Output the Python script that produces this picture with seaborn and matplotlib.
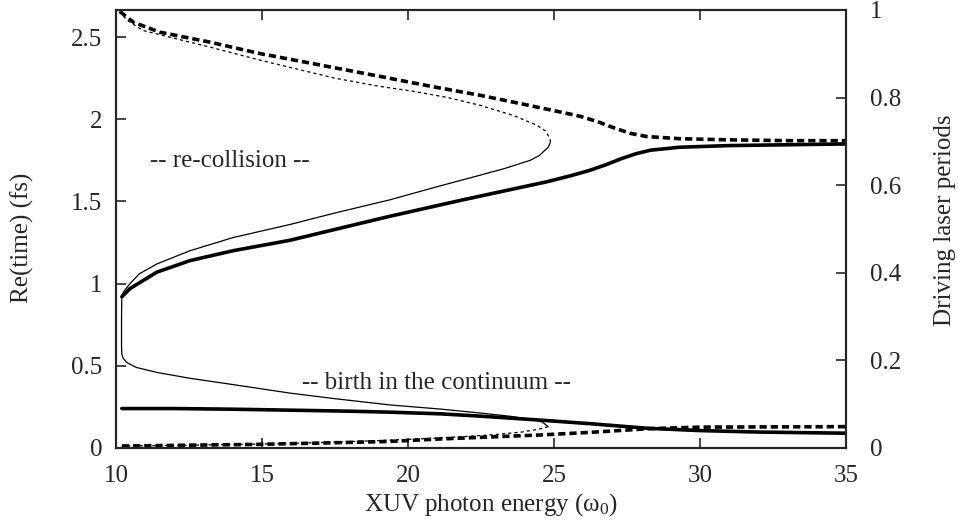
import numpy as np
import pandas as pd
import matplotlib
matplotlib.use("Agg")
import matplotlib.pyplot as plt
import seaborn as sns

# ---- data ----
thin_solid_x = [24.88, 24.8, 24.5, 24.18, 23.3, 22.47, 21.0, 19.38, 17.5, 15.96, 14.0, 12.53, 11.4, 10.8, 10.48, 10.3, 10.2,
                10.19, 10.19, 10.2, 10.25, 10.37, 10.7, 11.4, 12.5, 13.66, 15.96, 17.5, 19.38, 21.1, 22.47, 23.5, 24.3, 24.6, 24.8]
thin_solid_y = [1.86, 1.83, 1.78, 1.75, 1.70, 1.66, 1.59, 1.51, 1.43, 1.36, 1.28, 1.20, 1.12, 1.06, 1.0, 0.96, 0.93,
                0.80, 0.62, 0.57, 0.545, 0.52, 0.49, 0.46, 0.425, 0.395, 0.334, 0.30, 0.262, 0.237, 0.213, 0.193, 0.172, 0.158, 0.13]

thin_dash_up_x = [24.88, 24.86, 24.7, 24.42, 23.6, 22.47, 21.34, 20.2, 19.04, 17.5, 14.93, 13.2, 10.93, 10.4, 10.05]
thin_dash_up_y = [1.86, 1.885, 1.93, 1.963, 2.024, 2.085, 2.133, 2.17, 2.20, 2.25, 2.36, 2.44, 2.54, 2.60, 2.665]

thin_dash_lo_x = [24.8, 24.5, 23.9, 22.8, 21.0, 19.0, 17.0, 15.0, 12.5, 10.2]
thin_dash_lo_y = [0.13, 0.115, 0.097, 0.079, 0.06, 0.045, 0.033, 0.024, 0.017, 0.012]

thick_solid_up_x = [10.2, 10.48, 11.4, 12.53, 14.0, 15.96, 17.5, 19.38, 21.88, 24.76, 25.6, 26.2, 26.8, 27.3, 27.8, 28.3, 29.3, 31.0, 33.0, 35.0]
thick_solid_up_y = [0.92, 0.97, 1.07, 1.14, 1.20, 1.264, 1.33, 1.41, 1.51, 1.62, 1.658, 1.688, 1.725, 1.76, 1.79, 1.812, 1.83, 1.84, 1.845, 1.85]

thick_dash_up_x = [10.14, 10.6, 11.5, 13.2, 14.93, 17.0, 19.04, 20.8, 22.47, 24.0, 25.2, 25.9, 26.5, 27.02, 27.6, 28.18, 29.3, 31.0, 33.0, 35.0]
thick_dash_up_y = [2.655, 2.59, 2.53, 2.47, 2.40, 2.33, 2.261, 2.20, 2.146, 2.09, 2.045, 2.018, 1.985, 1.95, 1.915, 1.895, 1.882, 1.875, 1.87, 1.87]

thick_solid_lo_x = [10.2, 12.0, 14.0, 16.0, 18.0, 19.38, 21.1, 22.47, 24.5, 26.23, 28.2, 30.0, 32.0, 35.0]
thick_solid_lo_y = [0.24, 0.24, 0.236, 0.23, 0.224, 0.218, 0.208, 0.194, 0.17, 0.148, 0.12, 0.106, 0.097, 0.09]

thick_dash_lo_x = [10.2, 12.0, 14.8, 17.0, 19.38, 21.1, 24.5, 26.23, 28.2, 30.0, 35.0]
thick_dash_lo_y = [0.012, 0.016, 0.022, 0.03, 0.04, 0.055, 0.079, 0.095, 0.117, 0.127, 0.13]

left_ticks = [0, 0.5, 1, 1.5, 2, 2.5]
right_ticks = [0, 0.2, 0.4, 0.6, 0.8, 1]
x_ticks = [10, 15, 20, 25, 30, 35]
period_fs = 2.665

sns.set_style("white")
plt.rcParams['font.family'] = ['Liberation Serif', 'DejaVu Serif']
plt.rcParams['mathtext.fontset'] = 'custom'
plt.rcParams['mathtext.rm'] = 'Liberation Serif'
plt.rcParams['mathtext.it'] = 'Liberation Serif:italic'

FS = 18

fig = plt.figure(figsize=(9.58, 5.26), dpi=100)
ax = fig.add_axes([116/958, 1-448/526, (846-116)/958, (448-10)/526])

thin = 0.9
thick = 2.6
curves = [
    (thin_solid_x, thin_solid_y, thin, None),
    (thin_dash_up_x, thin_dash_up_y, thin, (2.5, 2.5)),
    (thin_dash_lo_x, thin_dash_lo_y, thin, (2.5, 2.5)),
    (thick_solid_up_x, thick_solid_up_y, thick, None),
    (thick_solid_lo_x, thick_solid_lo_y, thick, None),
    (thick_dash_up_x, thick_dash_up_y, thick, (2.0, 1.1)),
    (thick_dash_lo_x, thick_dash_lo_y, thick, (2.0, 1.1)),
]
for xs, ys, lw, dash in curves:
    df = pd.DataFrame({"x": xs, "y": ys})
    sns.lineplot(data=df, x="x", y="y", ax=ax, sort=False, estimator=None,
                 color="black", linewidth=lw)
    if dash is not None:
        ax.lines[-1].set_dashes(dash)

ax.set_xlim(10, 35)
ax.set_ylim(0, period_fs)
ax.set_xticks(x_ticks)
ax.set_xticklabels([f"{v:g}" for v in x_ticks])
ax.set_yticks(left_ticks)
ax.set_yticklabels([f"{v:g}" for v in left_ticks])
ax.tick_params(axis='x', direction='in', length=7, width=1.2, labelsize=FS, pad=12,
               top=True, bottom=True)
ax.tick_params(axis='y', direction='in', length=7, width=1.2, labelsize=FS, pad=10,
               left=True, right=False)
ax.set_xlabel("XUV photon energy (ω$_{\\mathrm{0}}$)", fontsize=FS, va='center')
ax.xaxis.set_label_coords(0.514, -0.13)
ax.set_ylabel("Re(time) (fs)", fontsize=FS, va='center')
ax.yaxis.set_label_coords(-0.128, 0.48)

for s in ax.spines.values():
    s.set_linewidth(1.5)
    s.set_color("black")

ax2 = ax.twinx()
ax2.set_ylim(0, 1)
ax2.set_yticks(right_ticks)
ax2.set_yticklabels([f"{v:g}" for v in right_ticks])
ax2.tick_params(axis='y', direction='in', length=7, width=1.2, labelsize=FS, pad=17)
ax2.set_ylabel("Driving laser periods", fontsize=FS, rotation=90, va='center')
ax2.yaxis.set_label_coords(1.135, 0.52)
for s in ax2.spines.values():
    s.set_linewidth(1.5)

ax.text(13.9, 1.745, "-- re-collision --", fontsize=FS, ha='center', va='center')
ax.text(20.96, 0.395, "-- birth in the continuum --", fontsize=FS, ha='center', va='center')

fig.savefig("out.png", dpi=100)
